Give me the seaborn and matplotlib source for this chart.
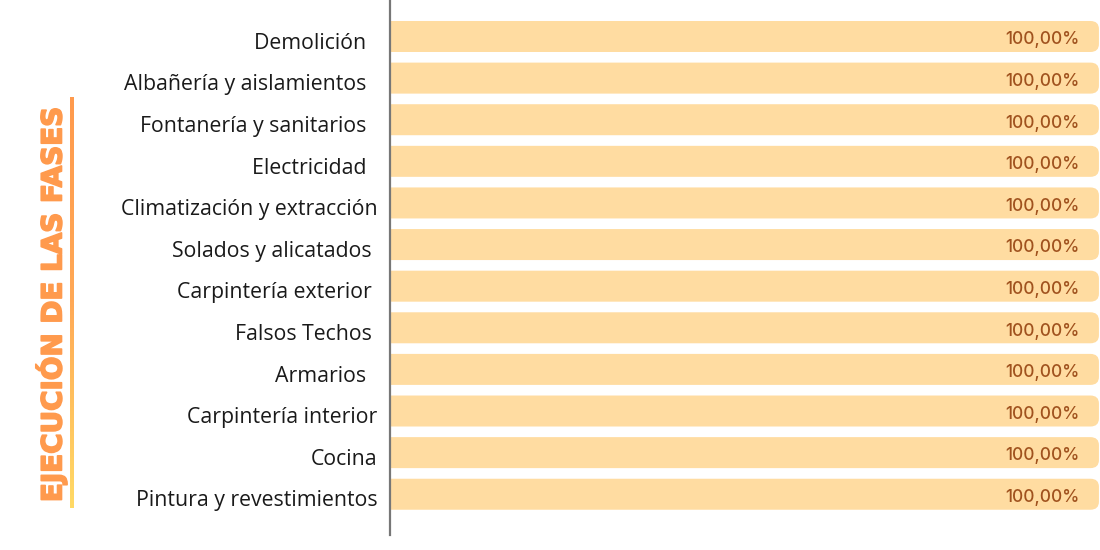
import numpy as np
import pandas as pd
import seaborn as sns
import matplotlib.pyplot as plt
import matplotlib.transforms as mtrans
import matplotlib.patheffects as pe
from matplotlib.patches import FancyBboxPatch
from matplotlib.colors import LinearSegmentedColormap

fases = ['Demolición  ', 'Albañería y aislamientos  ', 'Fontanería y sanitarios  ',
         'Electricidad  ', 'Climatización y extracción', 'Solados y alicatados ',
         'Carpintería exterior ', 'Falsos Techos ', 'Armarios  ',
         'Carpintería interior', 'Cocina', 'Pintura y revestimientos']
avance = [100, 100, 100, 100, 100, 100, 100, 100, 100, 100, 100, 100]
etiquetas = ['100,00%'] * 12

df = pd.DataFrame({'fase': fases, 'avance': avance})

sns.set_style('white')
plt.rcParams['font.family'] = ['Open Sans', 'DejaVu Sans']

fig = plt.figure(figsize=(11, 5.5), dpi=100)
ax = fig.add_axes([390 / 1100, 0, 710 / 1100, 1])

sns.barplot(data=df, x='avance', y='fase', color='#FFDCA1', width=0.745,
            saturation=1, ax=ax)
ax.set_xlim(0, 100.15)
ax.set_ylim(12.34, -0.877)

# rounded right end for the bars
for p in list(ax.patches):
    x0, y0 = p.get_x(), p.get_y()
    w, h = p.get_width(), p.get_height()
    r = FancyBboxPatch((x0 - 3, y0), w + 3, h,
                       boxstyle='round,pad=0,rounding_size=1.2',
                       mutation_aspect=0.16, fc=p.get_facecolor(), ec='none')
    p.remove()
    ax.add_patch(r)
    r.set_clip_path(ax.patch)

for i, t in enumerate(etiquetas):
    ax.text(97.3, i + 0.08, t, ha='right', va='center', fontsize=12.4,
            color='#A0521E', fontweight='medium', family=['Inter', 'DejaVu Sans'])

ax.set_xlabel('')
ax.set_ylabel('')
ax.set_xticks([])
ax.tick_params(axis='y', length=0, pad=9, labelsize=15.3, labelcolor='#1a1a1a')
shift = mtrans.ScaledTranslation(0, -3 / 72, fig.dpi_scale_trans)
for lbl in ax.get_yticklabels():
    lbl.set_verticalalignment('center_baseline')
    lbl.set_transform(lbl.get_transform() + shift)
for s in ['top', 'right', 'bottom']:
    ax.spines[s].set_visible(False)
ax.spines['left'].set_color('#777777')
ax.spines['left'].set_linewidth(1.6)
ax.spines['left'].set_bounds(11.98, -0.877)

fig.text(51 / 1100, 1 - 305 / 550, 'EJECUCIÓN DE LAS FASES', rotation=90,
         ha='center', va='center', fontsize=20, fontweight='bold',
         color='#FF9A4D', family=['DejaVu Sans'],
         path_effects=[pe.withStroke(linewidth=1.2, foreground='#FF9A4D')])

# gradient line next to the title
gax = fig.add_axes([70 / 1100, 1 - 508 / 550, 3.5 / 1100, 411 / 550])
grad = np.linspace(0, 1, 256).reshape(-1, 1)
cmap = LinearSegmentedColormap.from_list('g', ['#FF9A4D', '#FFA956', '#FFDA66'])
gax.imshow(grad, aspect='auto', cmap=cmap)
gax.axis('off')

fig.savefig('out.png', dpi=100)
